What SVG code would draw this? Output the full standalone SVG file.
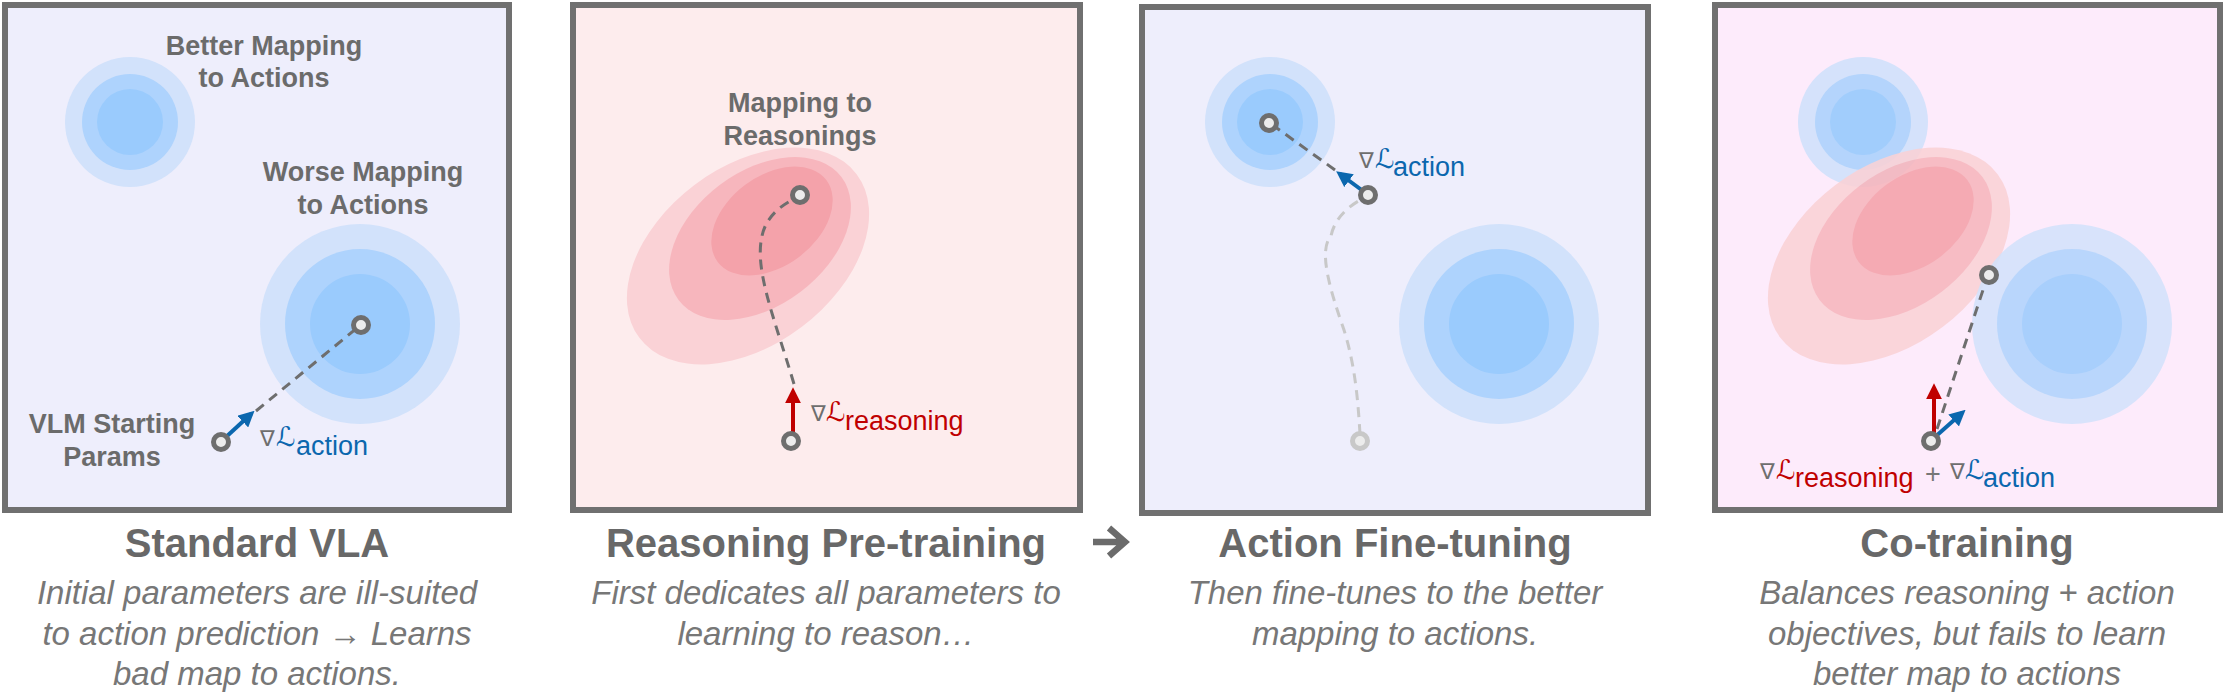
<svg xmlns="http://www.w3.org/2000/svg" width="2225" height="695" viewBox="0 0 2225 695">
<defs>
<style>
.panel{stroke:#707070;stroke-width:6}
.b1{fill:#d2e2fb}.b2{fill:#aed3fd}.b3{fill:#9acbfd}
.r1{fill:#fad2d6}.r2{fill:#f7b6bd}.r3{fill:#f4a2aa}
.node{fill:#ececec;stroke:#6e6e6e;stroke-width:5}
.faded{fill:#ececec;stroke:#c8c8c8;stroke-width:5}
.lbl{font-family:"Liberation Sans",Arial,sans-serif;font-weight:bold;font-size:27px;fill:#6b6b6b;text-anchor:middle}
.title{font-family:"Liberation Sans",Arial,sans-serif;font-weight:bold;font-size:40px;fill:#686868;text-anchor:middle}
.cap{font-family:"Liberation Sans",Arial,sans-serif;font-style:italic;font-size:33px;fill:#777777;text-anchor:middle}
.nabla{font-family:"DejaVu Sans",sans-serif;font-size:22px;fill:#6e6e6e}
.calL{font-family:"DejaVu Serif","DejaVu Sans",serif;font-style:italic;font-size:27px}
.sub{font-family:"Liberation Sans",Arial,sans-serif;font-size:27px}
.blue{fill:#0b67ae}.red{fill:#c00000}
.dash{fill:none;stroke:#6e6e6e;stroke-width:3;stroke-dasharray:10 7}
.dashf{fill:none;stroke:#c8c8c8;stroke-width:3;stroke-dasharray:10 7}
.abl{stroke:#0b67ae;stroke-width:4;fill:none}
.ard{stroke:#c00000;stroke-width:4;fill:none}
</style>
<marker id="hb" viewBox="0 0 10 10" refX="7" refY="5" markerWidth="16" markerHeight="16" markerUnits="userSpaceOnUse" orient="auto"><path d="M0,0 L10,5 L0,10 z" fill="#0b67ae"/></marker>
<marker id="hr" viewBox="0 0 10 10" refX="7" refY="5" markerWidth="16" markerHeight="16" markerUnits="userSpaceOnUse" orient="auto"><path d="M0,0 L10,5 L0,10 z" fill="#c00000"/></marker>
</defs>

<!-- Panel 1: Standard VLA -->
<g id="panel1">
<rect class="panel" x="5" y="5" width="504" height="505" fill="#eeeefc"/>
<circle class="b1" cx="130" cy="122" r="65"/><circle class="b2" cx="130" cy="122" r="48"/><circle class="b3" cx="130" cy="122" r="33"/>
<circle class="b1" cx="360" cy="324" r="100"/><circle class="b2" cx="360" cy="324" r="75"/><circle class="b3" cx="360" cy="324" r="50"/>
<text class="lbl" x="264" y="55">Better Mapping</text><text class="lbl" x="264" y="87">to Actions</text>
<text class="lbl" x="363" y="181">Worse Mapping</text><text class="lbl" x="363" y="214">to Actions</text>
<text class="lbl" x="112" y="433">VLM Starting</text><text class="lbl" x="112" y="466">Params</text>
<text><tspan class="nabla" x="260" y="446">∇</tspan><tspan class="calL blue" x="276" y="446">ℒ</tspan><tspan class="sub blue" x="296" y="455">action</tspan></text>
</g>

<!-- Panel 2: Reasoning Pre-training -->
<g id="panel2">
<rect class="panel" x="573" y="5" width="507" height="505" fill="#fdeced"/>
<ellipse class="r1" cx="748" cy="256" rx="136" ry="89" transform="rotate(-37 748 256)"/>
<ellipse class="r2" cx="760" cy="238.5" rx="102" ry="67" transform="rotate(-37 760 238.5)"/>
<ellipse class="r3" cx="772" cy="221" rx="68" ry="45" transform="rotate(-37 772 221)"/>
<text class="lbl" x="800" y="112">Mapping to</text><text class="lbl" x="800" y="145">Reasonings</text>
<text><tspan class="nabla" x="811" y="421">∇</tspan><tspan class="calL red" x="826" y="421">ℒ</tspan><tspan class="sub red" x="845" y="430">reasoning</tspan></text>
</g>

<!-- Panel 3: Action Fine-tuning -->
<g id="panel3">
<rect class="panel" x="1142" y="7" width="506" height="506" fill="#eeeefc"/>
<circle class="b1" cx="1270" cy="122" r="65"/><circle class="b2" cx="1270" cy="122" r="48"/><circle class="b3" cx="1270" cy="122" r="33"/>
<circle class="b1" cx="1499" cy="324" r="100"/><circle class="b2" cx="1499" cy="324" r="75"/><circle class="b3" cx="1499" cy="324" r="50"/>
<text><tspan class="nabla" x="1359" y="168">∇</tspan><tspan class="calL blue" x="1375" y="168">ℒ</tspan><tspan class="sub blue" x="1393" y="176">action</tspan></text>
</g>

<!-- Panel 4: Co-training -->
<g id="panel4">
<rect class="panel" x="1715" y="5" width="505" height="505" fill="#fdebfb"/>
<g opacity="0.92"><circle class="b1" cx="1863" cy="122" r="65"/><circle class="b2" cx="1863" cy="122" r="48"/><circle class="b3" cx="1863" cy="122" r="33"/></g>
<g opacity="0.88">
<ellipse class="r1" cx="1889" cy="256" rx="136" ry="89" transform="rotate(-37 1889 256)"/>
<ellipse class="r2" cx="1901" cy="238.5" rx="102" ry="67" transform="rotate(-37 1901 238.5)"/>
<ellipse class="r3" cx="1913" cy="221" rx="68" ry="45" transform="rotate(-37 1913 221)"/>
</g>
<g opacity="0.85"><circle class="b1" cx="2072" cy="324" r="100"/><circle class="b2" cx="2072" cy="324" r="75"/><circle class="b3" cx="2072" cy="324" r="50"/></g>
<text><tspan class="nabla" x="1760" y="479">∇</tspan><tspan class="calL red" x="1776" y="479">ℒ</tspan><tspan class="sub red" x="1795" y="487">reasoning</tspan><tspan class="sub" fill="#777777" x="1925" y="483">+</tspan><tspan class="nabla" x="1950" y="479">∇</tspan><tspan class="calL blue" x="1965" y="479">ℒ</tspan><tspan class="sub blue" x="1983" y="487">action</tspan></text>
</g>

<!-- Connectors -->
<g id="connectors">
<path class="dash" d="M256,411 L357,328"/>
<path class="abl" d="M226,437 L251,414" marker-end="url(#hb)"/>
<path class="dash" d="M794,384 C775,320 754,270 762,236 C766,216 783,204 796,198"/>
<path class="ard" d="M793,434 L793,392" marker-end="url(#hr)"/>
<path class="dashf" d="M1360,434 C1358,400 1355,365 1344,330 C1330,290 1318,250 1331,236 C1335,216 1352,204 1364,198"/>
<path class="dash" d="M1335,170 L1274,126"/>
<path class="abl" d="M1363,191 L1340,174" marker-end="url(#hb)"/>
<path class="dash" d="M1937,429 L1985,284"/>
<path class="ard" d="M1934,434 L1934,388" marker-end="url(#hr)"/>
<path class="abl" d="M1935,437 L1962,413" marker-end="url(#hb)"/>
<path d="M1093,542 H1125 M1109,528 L1125,542 L1109,556" fill="none" stroke="#6b6b6b" stroke-width="6.5"/>
</g>

<!-- Nodes -->
<g id="nodes">
<circle class="node" cx="221" cy="442" r="7.5"/>
<circle class="node" cx="361" cy="325" r="7.5"/>
<circle class="node" cx="791" cy="441" r="7.5"/>
<circle class="node" cx="800" cy="195" r="7.5"/>
<circle class="faded" cx="1360" cy="441" r="7.5"/>
<circle class="node" cx="1368" cy="195" r="7.5"/>
<circle class="node" cx="1269" cy="123" r="7.5"/>
<circle class="node" cx="1931" cy="441" r="7.5"/>
<circle class="node" cx="1989" cy="275" r="7.5"/>
</g>

<!-- Titles and captions -->
<g id="captions">
<text class="title" x="257" y="557">Standard VLA</text>
<text class="cap" x="257" y="604">Initial parameters are ill-suited</text>
<text class="cap" x="257" y="645">to action prediction <tspan font-weight="bold">→</tspan> Learns</text>
<text class="cap" x="257" y="685">bad map to actions.</text>
<text class="title" x="826" y="557">Reasoning Pre-training</text>
<text class="cap" x="826" y="604">First dedicates all parameters to</text>
<text class="cap" x="826" y="645">learning to reason…</text>
<text class="title" x="1395" y="557">Action Fine-tuning</text>
<text class="cap" x="1395" y="604">Then fine-tunes to the better</text>
<text class="cap" x="1395" y="645">mapping to actions.</text>
<text class="title" x="1967" y="557">Co-training</text>
<text class="cap" x="1967" y="604">Balances reasoning + action</text>
<text class="cap" x="1967" y="645">objectives, but fails to learn</text>
<text class="cap" x="1967" y="685">better map to actions</text>
</g>
</svg>
